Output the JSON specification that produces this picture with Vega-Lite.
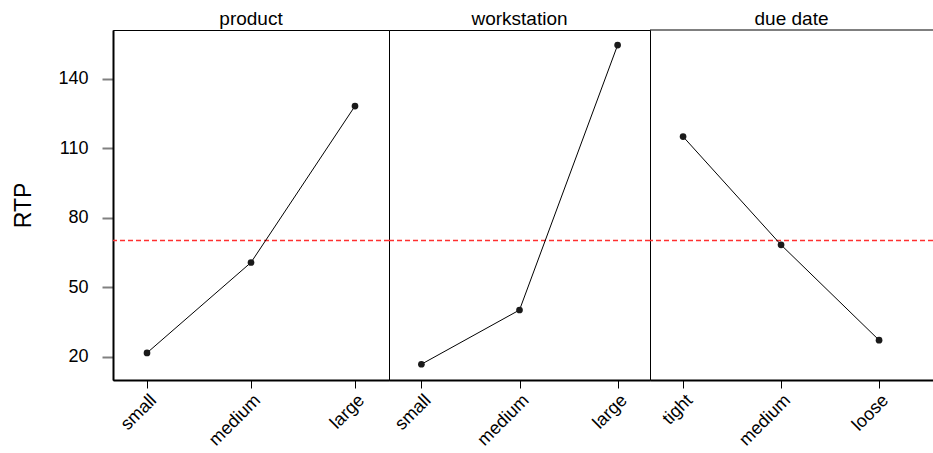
{
  "$schema": "https://vega.github.io/schema/vega-lite/v6.json",
  "padding": {"left": 12, "top": 9, "right": 0, "bottom": 0},
  "spacing": 0,
  "bounds": "flush",
  "background": "white",
  "config": {
    "font": "Liberation Sans",
    "view": {"stroke": "black", "strokeWidth": 1},
    "axis": {"grid": false, "labelFont": "Liberation Sans", "titleFont": "Liberation Sans", "labelColor": "black", "titleColor": "black"},
    "title": {"font": "Liberation Sans", "fontSize": 19, "fontWeight": "normal", "color": "black", "offset": 0, "dy": 3, "anchor": "middle", "baseline": "alphabetic"}
  },
  "datasets": {
    "effects": [
      {"factor": "product", "level": "small", "RTP": 21.7},
      {"factor": "product", "level": "medium", "RTP": 60.7},
      {"factor": "product", "level": "large", "RTP": 128.2},
      {"factor": "workstation", "level": "small", "RTP": 16.8},
      {"factor": "workstation", "level": "medium", "RTP": 40.2},
      {"factor": "workstation", "level": "large", "RTP": 154.5},
      {"factor": "due date", "level": "tight", "RTP": 115.0},
      {"factor": "due date", "level": "medium", "RTP": 68.3},
      {"factor": "due date", "level": "loose", "RTP": 27.2}
    ],
    "grand": [{"mean": 70.2}]
  },
  "hconcat": [
    {
      "width": 276, "height": 350,
      "title": {"text": "product"},
      "layer": [
        {
          "data": {"name": "grand"},
          "mark": {"type": "rule", "strokeDash": [5, 3], "strokeWidth": 1.5},
          "encoding": {"color": {"value": "#ff3030"}, "y": {"field": "mean", "type": "quantitative", "scale": {"domain": [10, 161], "nice": false, "zero": false},
            "axis": {"title": "RTP", "titleFontSize": 23, "titleFontWeight": "normal", "titlePadding": 22, "values": [20, 50, 80, 110, 140], "labelFontSize": 18, "labelPadding": 14, "tickSize": 11, "tickWidth": 2, "tickColor": "#808080", "domainColor": "black", "domainWidth": 2}}}
        },
        {
          "data": {"name": "effects"},
          "transform": [{"filter": "datum.factor === 'product'"}],
          "mark": {"type": "line", "color": "black", "strokeWidth": 1, "point": {"filled": true, "color": "#1a1a1a", "size": 45, "opacity": 1}},
          "encoding": {
            "x": {"field": "level", "type": "ordinal", "sort": ["small", "medium", "large"], "scale": {"type": "point", "padding": 0.327},
              "axis": {"title": null, "labelAngle": -45, "labelAlign": "right", "labelBaseline": "top", "labelFontSize": 18, "labelPadding": 3, "tickSize": 8, "tickColor": "black", "domainColor": "black", "domainWidth": 2}},
            "y": {"field": "RTP", "type": "quantitative"}
          }
        }
      ]
    },
    {
      "width": 261, "height": 350,
      "title": {"text": "workstation"},
      "layer": [
        {
          "data": {"name": "grand"},
          "mark": {"type": "rule", "strokeDash": [5, 3], "strokeWidth": 1.5},
          "encoding": {"color": {"value": "#ff3030"}, "y": {"field": "mean", "type": "quantitative", "scale": {"domain": [10, 161], "nice": false, "zero": false}, "axis": null}}
        },
        {
          "data": {"name": "effects"},
          "transform": [{"filter": "datum.factor === 'workstation'"}],
          "mark": {"type": "line", "color": "black", "strokeWidth": 1, "point": {"filled": true, "color": "#1a1a1a", "size": 45, "opacity": 1}},
          "encoding": {
            "x": {"field": "level", "type": "ordinal", "sort": ["small", "medium", "large"], "scale": {"type": "point", "padding": 0.33},
              "axis": {"title": null, "labelAngle": -45, "labelAlign": "right", "labelBaseline": "top", "labelFontSize": 18, "labelPadding": 3, "tickSize": 8, "tickColor": "black", "domainColor": "black", "domainWidth": 2}},
            "y": {"field": "RTP", "type": "quantitative"}
          }
        }
      ]
    },
    {
      "width": 283, "height": 350,
      "view": {"stroke": null},
      "title": {"text": "due date"},
      "layer": [
        {
          "data": {"name": "grand"},
          "mark": {"type": "rule", "strokeDash": [5, 3], "strokeWidth": 1.5},
          "encoding": {"color": {"value": "#ff3030"}, "y": {"field": "mean", "type": "quantitative", "scale": {"domain": [10, 161], "nice": false, "zero": false}, "axis": null}}
        },
        {
          "data": {"name": "grand"},
          "mark": {"type": "rule", "stroke": "black", "strokeWidth": 1},
          "encoding": {"y": {"datum": 161}}
        },
        {
          "data": {"name": "effects"},
          "transform": [{"filter": "datum.factor === 'due date'"}],
          "mark": {"type": "line", "color": "black", "strokeWidth": 1, "point": {"filled": true, "color": "#1a1a1a", "size": 45, "opacity": 1}},
          "encoding": {
            "x": {"field": "level", "type": "ordinal", "sort": ["tight", "medium", "loose"], "scale": {"type": "point", "padding": 0.444, "align": 0.38},
              "axis": {"title": null, "labelAngle": -45, "labelAlign": "right", "labelBaseline": "top", "labelFontSize": 18, "labelPadding": 3, "tickSize": 8, "tickColor": "black", "domainColor": "black", "domainWidth": 2}},
            "y": {"field": "RTP", "type": "quantitative"}
          }
        }
      ]
    }
  ]
}
